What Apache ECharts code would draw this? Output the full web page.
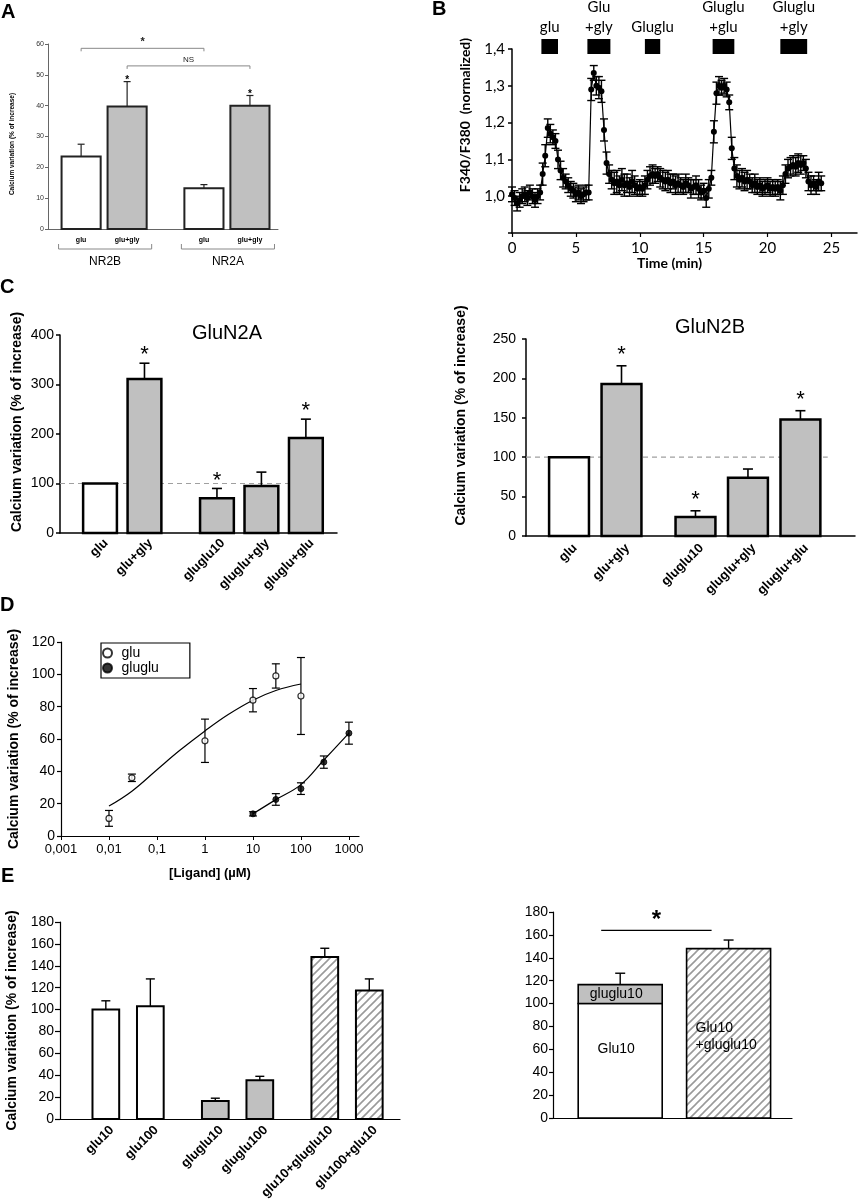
<!DOCTYPE html>
<html>
<head>
<meta charset="utf-8">
<script src="https://cdn.jsdelivr.net/npm/echarts@6/dist/echarts.min.js"></script>
<style>
  html, body { margin: 0; padding: 0; background: #fff; }
  #main { width: 858px; height: 1200px; }
</style>
</head>
<body>
<div id="main"></div>
<script>
// ---------- data ----------
// A : NR2B / NR2A
const aLabels = ['glu', 'glu+gly', 'glu', 'glu+gly'];
const aGroups = ['NR2B', 'NR2A'];
const aValues = [23.5, 39.7, 13.2, 40.0];
const aErrors = [4.0, 8.1, 1.2, 3.3];
const aFills = ['white', 'grey', 'white', 'grey'];
const aStars = [0, 1, 0, 1];
const aSig = [[0, 2, 58.6, '*'], [1, 3, 52.9, 'NS']];

// B : time course
const bTime = [
  0.0, 0.2, 0.4, 0.6, 0.8, 1.0, 1.2, 1.4, 1.6, 1.8,
  2.0, 2.2, 2.4, 2.6, 2.8, 3.0, 3.2, 3.4, 3.6, 3.8,
  4.0, 4.2, 4.4, 4.6, 4.8, 5.0, 5.2, 5.4, 5.6, 5.8,
  6.0, 6.2, 6.4, 6.6, 6.8, 7.0, 7.2, 7.4, 7.6, 7.8,
  8.0, 8.2, 8.4, 8.6, 8.8, 9.0, 9.2, 9.4, 9.6, 9.8,
  10.0, 10.2, 10.4, 10.6, 10.8, 11.0, 11.2, 11.4, 11.6, 11.8,
  12.0, 12.2, 12.4, 12.6, 12.8, 13.0, 13.2, 13.4, 13.6, 13.8,
  14.0, 14.2, 14.4, 14.6, 14.8, 15.0, 15.2, 15.4, 15.6, 15.8,
  16.0, 16.2, 16.4, 16.6, 16.8, 17.0, 17.2, 17.4, 17.6, 17.8,
  18.0, 18.2, 18.4, 18.6, 18.8, 19.0, 19.2, 19.4, 19.6, 19.8,
  20.0, 20.2, 20.4, 20.6, 20.8, 21.0, 21.2, 21.4, 21.6, 21.8,
  22.0, 22.2, 22.4, 22.6, 22.8, 23.0, 23.2, 23.4, 23.6, 23.8,
  24.0, 24.2
];
const bValues = [
  1.005, 0.995, 0.980, 0.990, 1.000, 1.005, 0.995, 1.010, 1.000, 0.990,
  1.000, 1.010, 1.060, 1.110, 1.185, 1.170, 1.160, 1.150, 1.100, 1.070,
  1.050, 1.040, 1.030, 1.020, 1.015, 1.005, 1.010, 1.000, 1.005, 1.010,
  1.010, 1.290, 1.335, 1.300, 1.295, 1.285, 1.180, 1.090, 1.060, 1.045,
  1.035, 1.040, 1.030, 1.045, 1.030, 1.035, 1.025, 1.040, 1.030, 1.020,
  1.025, 1.020, 1.030, 1.045, 1.055, 1.060, 1.055, 1.060, 1.050, 1.045,
  1.040, 1.045, 1.035, 1.040, 1.030, 1.035, 1.030, 1.025, 1.035, 1.030,
  1.020, 1.025, 1.030, 1.020, 1.010, 1.015, 0.995, 1.020, 1.050, 1.175,
  1.280, 1.300, 1.295, 1.300, 1.290, 1.255, 1.130, 1.075, 1.055, 1.045,
  1.050, 1.040, 1.045, 1.040, 1.030, 1.035, 1.025, 1.030, 1.020, 1.025,
  1.030, 1.020, 1.025, 1.020, 1.025, 1.015, 1.030, 1.060, 1.075, 1.080,
  1.085, 1.080, 1.090, 1.085, 1.090, 1.075, 1.040, 1.030, 1.035, 1.025,
  1.040, 1.035
];
const bErrors = [
  0.02, 0.02, 0.02, 0.02, 0.02, 0.02, 0.02, 0.02, 0.02, 0.02,
  0.02, 0.02, 0.03, 0.03, 0.025, 0.025, 0.02, 0.02, 0.025, 0.025,
  0.025, 0.02, 0.02, 0.02, 0.02, 0.02, 0.02, 0.02, 0.02, 0.02,
  0.02, 0.03, 0.02, 0.025, 0.03, 0.03, 0.03, 0.03, 0.025, 0.025,
  0.03, 0.03, 0.025, 0.03, 0.03, 0.025, 0.025, 0.03, 0.025, 0.02,
  0.02, 0.02, 0.025, 0.025, 0.025, 0.025, 0.02, 0.02, 0.025, 0.025,
  0.025, 0.025, 0.025, 0.02, 0.025, 0.025, 0.02, 0.02, 0.025, 0.02,
  0.025, 0.02, 0.025, 0.025, 0.02, 0.02, 0.025, 0.025, 0.02, 0.03,
  0.03, 0.025, 0.02, 0.02, 0.02, 0.02, 0.03, 0.03, 0.03, 0.025,
  0.025, 0.025, 0.025, 0.02, 0.02, 0.025, 0.02, 0.02, 0.02, 0.02,
  0.02, 0.02, 0.02, 0.02, 0.02, 0.025, 0.025, 0.025, 0.025, 0.025,
  0.025, 0.025, 0.025, 0.025, 0.02, 0.025, 0.025, 0.025, 0.02, 0.02,
  0.025, 0.02
];
const bBlocks = [[2.3, 3.6], [5.9, 7.7], [10.4, 11.6], [15.7, 17.4], [21.0, 23.1]];
const bBlockLabels = ['glu', 'Glu\n+gly', 'Gluglu', 'Gluglu\n+glu', 'Gluglu\n+gly'];

// C : GluN2A / GluN2B
const cLabels = ['glu', 'glu+gly', 'gluglu10', 'gluglu+gly', 'gluglu+glu'];
const cFills = ['white', 'grey', 'grey', 'grey', 'grey'];
const cStars = [0, 1, 1, 0, 1];
const c2aValues = [100, 311, 70, 95, 192];
const c2aErrors = [0, 32, 20, 28, 38];
const c2bValues = [100, 193, 24, 74, 148];
const c2bErrors = [0, 23, 8, 11, 11];
const cRef = 100;

// D : dose response
const dGluX = [0.01, 0.03, 1, 10, 30, 100];
const dGluY = [10.9, 36, 58.9, 84, 99, 86.6];
const dGluErr = [4.9, 2.3, 13.4, 7.2, 7.5, 23.8];
const dGluluX = [10, 30, 100, 300, 1000];
const dGluluY = [13.7, 22.6, 29.3, 45.7, 63.6];
const dGluluErr = [1.3, 3.6, 3.6, 3.8, 6.8];
const dGluFitX = [0.01, 0.03, 0.1, 0.3, 1, 3, 10, 30, 100];
const dGluFitY = [18.5, 27.7, 41, 53, 65, 75, 84, 90, 94];
const dGluluFitX = [10, 30, 100, 300, 1000];
const dGluluFitY = [13.7, 22.5, 31.8, 47, 63.6];

// E : combinations
const eLabels = ['glu10', 'glu100', 'gluglu10', 'gluglu100', 'glu10+gluglu10', 'glu100+glu10'];
const eValues = [100, 103, 16.5, 35.5, 148, 117.5];
const eErrors = [8, 25, 2.5, 3.5, 8, 10.5];
const eFills = ['white', 'white', 'grey', 'grey', 'hatch', 'hatch'];
const eSumLower = [100, 148];
const eSumUpper = [16.5, 0];
const eSumErrors = [10, 7.5];
const eSumLabels = [['Glu10', 'gluglu10'], ['Glu10\n+gluglu10', '']];
const eSig = [[0, 1, 164, '*']];

// ---------- helpers ----------
const FONT = '"Liberation Sans", Arial, sans-serif';
const BFONT = 'Lato, "Open Sans", sans-serif';
const GREY = '#c0c0c0';

function hatchPattern(size, color, width) {
  const c = document.createElement('canvas');
  c.width = size; c.height = size;
  const g = c.getContext('2d');
  g.strokeStyle = color;
  g.lineWidth = width;
  g.beginPath();
  g.moveTo(0, size); g.lineTo(size, 0);
  g.moveTo(-size / 2, size / 2); g.lineTo(size / 2, -size / 2);
  g.moveTo(size / 2, size * 1.5); g.lineTo(size * 1.5, size / 2);
  g.stroke();
  return { image: c, repeat: 'repeat' };
}
const HATCH = hatchPattern(8, '#9a9a9a', 1.6);

function fillOf(k) {
  if (k === 'grey') return GREY;
  if (k === 'hatch') return HATCH;
  return '#fff';
}

// bar slots: groups of adjacent bars separated by a gap (in bar units)
function slots(groups, gap) {
  const out = [];
  let x = 0;
  groups.forEach(n => {
    for (let i = 0; i < n; i++) { out.push(x); x += 1; }
    x += gap;
  });
  return out;
}

const aPos = slots([2, 2], 0.67);
const cLPos = slots([2, 3], 0.63);
const cRPos = slots([2, 3], 0.41);
const eLPos = slots([2, 2, 2], 0.46);
const eRPos = slots([2], 0);

function hiddenX(gi, min, max, color, width) {
  return {
    gridIndex: gi, type: 'value', min: min, max: max,
    axisLine: { show: true, lineStyle: { color: color, width: width } },
    axisTick: { show: false }, axisLabel: { show: false }, splitLine: { show: false }
  };
}

function valueY(gi, max, interval, o) {
  return {
    gridIndex: gi, type: 'value', min: 0, max: max, interval: interval,
    axisLine: { show: true, onZero: false, lineStyle: { color: o.color || '#000', width: o.width || 1 } },
    axisTick: { show: true, length: o.tick || 4, lineStyle: { color: o.color || '#000', width: o.width || 1 } },
    axisLabel: { fontFamily: o.font || FONT, fontSize: o.size, color: o.labelColor || '#000', margin: o.margin || 6 },
    splitLine: { show: false },
    name: o.name || '', nameLocation: 'middle', nameGap: o.nameGap || 30, nameRotate: 90,
    nameTextStyle: {
      fontFamily: o.font || FONT, fontWeight: 'bold', fontSize: o.nameSize || 13, color: '#000',
      padding: o.namePad || 0
    }
  };
}

function barSeries(gi, pos, values, errors, cfg) {
  return {
    type: 'custom', xAxisIndex: gi, yAxisIndex: gi, clip: false, z: 3,
    data: values.map((v, i) => [pos[i], v, errors[i]]),
    encode: { x: 0, y: 1 },
    renderItem: function (params, api) {
      const i = params.dataIndex;
      const x = api.value(0), v = api.value(1), e = api.value(2);
      const tl = api.coord([x - cfg.w / 2, v]);
      const br = api.coord([x + cfg.w / 2, 0]);
      const cx = (tl[0] + br[0]) / 2;
      const top = api.coord([x, v + e])[1];
      const stroke = cfg.stroke || '#000';
      const kids = [{
        type: 'rect',
        shape: { x: tl[0], y: tl[1], width: br[0] - tl[0], height: br[1] - tl[1] },
        style: { fill: fillOf(cfg.fills[i]), stroke: stroke, lineWidth: cfg.lw }
      }];
      if (e > 0) {
        kids.push({ type: 'line', shape: { x1: cx, y1: tl[1], x2: cx, y2: top },
          style: { stroke: stroke, lineWidth: cfg.elw } });
        kids.push({ type: 'line', shape: { x1: cx - cfg.cap, y1: top, x2: cx + cfg.cap, y2: top },
          style: { stroke: stroke, lineWidth: cfg.elw } });
      }
      if (cfg.stars && cfg.stars[i]) {
        kids.push({ type: 'text', x: cx, y: top - cfg.starGap,
          style: { text: '*', font: cfg.starFont, align: 'center', verticalAlign: 'middle', fill: '#000' } });
      }
      if (cfg.labels) {
        if (cfg.rotate) {
          kids.push({ type: 'text', x: cx + cfg.ldx, y: br[1] + cfg.ldy, rotation: Math.PI / 4,
            style: { text: cfg.labels[i], font: cfg.labelFont, align: 'right', verticalAlign: 'middle', fill: '#000' } });
        } else {
          kids.push({ type: 'text', x: cx, y: br[1] + cfg.ldy,
            style: { text: cfg.labels[i], font: cfg.labelFont, align: 'center', verticalAlign: 'middle', fill: '#000' } });
        }
      }
      return { type: 'group', children: kids };
    }
  };
}

function refLine(gi, xmin, xend, value) {
  return {
    type: 'custom', xAxisIndex: gi, yAxisIndex: gi, z: 1, silent: true,
    data: [[xmin, value, xend]],
    renderItem: function (params, api) {
      const p0 = api.coord([api.value(0), api.value(1)]);
      const p1 = api.coord([api.value(2), api.value(1)]);
      return { type: 'line', shape: { x1: p0[0], y1: p0[1], x2: p1[0], y2: p1[1] },
        style: { stroke: '#a0a0a0', lineWidth: 1.2, lineDash: [5, 4] } };
    }
  };
}

function errorSeries(gi, xs, ys, errs, cap, lw, z) {
  return {
    type: 'custom', xAxisIndex: gi, yAxisIndex: gi, z: z, silent: true,
    data: xs.map((x, i) => [x, ys[i], errs[i]]),
    encode: { x: 0, y: 1 },
    renderItem: function (params, api) {
      const x = api.value(0), y = api.value(1), e = api.value(2);
      const hi = api.coord([x, y + e]);
      const lo = api.coord([x, y - e]);
      const st = { stroke: '#000', lineWidth: lw };
      return { type: 'group', children: [
        { type: 'line', shape: { x1: hi[0], y1: hi[1], x2: lo[0], y2: lo[1] }, style: st },
        { type: 'line', shape: { x1: hi[0] - cap, y1: hi[1], x2: hi[0] + cap, y2: hi[1] }, style: st },
        { type: 'line', shape: { x1: lo[0] - cap, y1: lo[1], x2: lo[0] + cap, y2: lo[1] }, style: st }
      ] };
    }
  };
}

const pair = (xs, ys) => xs.map((x, i) => [x, ys[i]]);
const commaNum = v => String(v).replace('.', ',');

// ---------- option ----------
const chart = echarts.init(document.getElementById('main'), null, { renderer: 'canvas' });

const option = {
  animation: false,
  backgroundColor: '#fff',
  grid: [
    { left: 48, top: 44, width: 230, height: 185 },    // A
    { left: 512, top: 49, width: 345, height: 184 },   // B
    { left: 60, top: 335, width: 277, height: 198 },   // C GluN2A
    { left: 526, top: 339, width: 329, height: 197 },  // C GluN2B
    { left: 61, top: 642, width: 298, height: 194 },   // D
    { left: 60, top: 922, width: 340, height: 197 },   // E left
    { left: 553, top: 912, width: 239, height: 206 }   // E right
  ],
  legend: {
    data: ['glu', 'gluglu'], orient: 'vertical', left: 101, top: 643,
    itemWidth: 18, itemHeight: 9, itemGap: 1, selectedMode: false,
    padding: [3, 31, 3, 1], borderColor: '#000', borderWidth: 1.2,
    textStyle: { fontFamily: FONT, fontSize: 14, color: '#000' }
  },
  xAxis: [
    hiddenX(0, -0.72, 4.28, '#666', 1),
    {
      gridIndex: 1, type: 'value', min: 0, max: 27, interval: 5,
      axisLine: { lineStyle: { color: '#000', width: 1.5 } },
      axisTick: { show: true, length: 4, lineStyle: { color: '#000', width: 1.2 } },
      axisLabel: {
        fontFamily: BFONT, fontSize: 15, color: '#000', margin: 8, showMaxLabel: false,
        formatter: v => (v % 5 === 0 ? String(v) : '')
      },
      splitLine: { show: false },
      name: 'Time (min)', nameLocation: 'middle', nameGap: 22,
      nameTextStyle: { fontFamily: BFONT, fontWeight: 'bold', fontSize: 14, color: '#000', padding: [0, 30, 0, 0] }
    },
    hiddenX(2, -0.9, 5.33, '#000', 1.5),
    hiddenX(3, -0.82, 5.45, '#000', 1.5),
    {
      gridIndex: 4, type: 'log', logBase: 10, min: 0.001, max: 1622,
      axisLine: { lineStyle: { color: '#000', width: 1.2 } },
      axisTick: { show: true, length: 4, lineStyle: { color: '#000' } },
      axisLabel: {
        fontFamily: FONT, fontSize: 13, color: '#000', margin: 7, showMaxLabel: false,
        formatter: function (v) {
          const l = Math.log10(v), p = Math.round(l);
          if (Math.abs(l - p) > 1e-6) return '';
          return commaNum(Number(Math.pow(10, p).toPrecision(3)));
        }
      },
      splitLine: { show: false }, minorTick: { show: false },
      name: '[Ligand] (µM)', nameLocation: 'middle', nameGap: 31,
      nameTextStyle: { fontFamily: FONT, fontWeight: 'bold', fontSize: 13, color: '#000' }
    },
    hiddenX(5, -1.03, 6.61, '#000', 1.2),
    hiddenX(6, -0.62, 1.585, '#000', 1.2)
  ],
  yAxis: [
    valueY(0, 60, 10, { size: 7, color: '#666', labelColor: '#333', tick: 3, margin: 4,
      name: 'Calcium variation (% of increase)', nameSize: 6.5, nameGap: 32, namePad: [0, 15, 0, 0] }),
    Object.assign(valueY(1, 1.4, 0.1, { size: 15, font: BFONT, width: 1.5, margin: 7,
      name: 'F340/F380  (normalized)', nameSize: 14, nameGap: 40, namePad: [0, 0, 0, 52] }), {
      min: 0.9,
      axisLabel: {
        fontFamily: BFONT, fontSize: 15, color: '#000', margin: 7,
        formatter: v => (Math.abs(v - 0.9) < 1e-6 ? '' : v.toFixed(1).replace('.', ','))
      }
    }),
    valueY(2, 400, 100, { size: 14, width: 1.5, margin: 6,
      name: 'Calcium variation (% of increase)', nameSize: 14, nameGap: 36, namePad: [0, 0, 0, 24] }),
    valueY(3, 250, 50, { size: 14, width: 1.5, margin: 10,
      name: 'Calcium variation (% of increase)', nameSize: 14, nameGap: 58, namePad: [0, 0, 0, 44] }),
    valueY(4, 120, 20, { size: 14, width: 1.2, margin: 6,
      name: 'Calcium variation (% of increase)', nameSize: 14, nameGap: 40 }),
    valueY(5, 180, 20, { size: 14, width: 1.2, tick: 5, margin: 6,
      name: 'Calcium variation (% of increase)', nameSize: 14, nameGap: 41 }),
    valueY(6, 180, 20, { size: 14, width: 1.2, margin: 5 })
  ],
  graphic: [
    { type: 'text', left: 1, top: 2, style: { text: 'A', font: 'bold 20px ' + FONT, fill: '#000' } },
    { type: 'text', left: 432, top: -1, style: { text: 'B', font: 'bold 20px ' + FONT, fill: '#000' } },
    { type: 'text', left: 0, top: 277, style: { text: 'C', font: 'bold 20px ' + FONT, fill: '#000' } },
    { type: 'text', left: 0, top: 595, style: { text: 'D', font: 'bold 20px ' + FONT, fill: '#000' } },
    { type: 'text', left: 1, top: 866, style: { text: 'E', font: 'bold 20px ' + FONT, fill: '#000' } },
    { type: 'text', x: 227, y: 333, style: { text: 'GluN2A', font: '20px ' + FONT, fill: '#000', align: 'center', verticalAlign: 'middle' } },
    { type: 'text', x: 710, y: 327, style: { text: 'GluN2B', font: '20px ' + FONT, fill: '#000', align: 'center', verticalAlign: 'middle' } }
  ],
  series: [
    // ---- A ----
    barSeries(0, aPos, aValues, aErrors, {
      w: 0.85, fills: aFills, lw: 2, elw: 1.2, cap: 3.5, stroke: '#222',
      stars: aStars, starGap: 1, starFont: 'bold 10px ' + FONT,
      labels: aLabels, labelFont: 'bold 7px ' + FONT, ldy: 11
    }),
    {
      type: 'custom', xAxisIndex: 0, yAxisIndex: 0, z: 2, silent: true, clip: false,
      data: aGroups.map((g, k) => [aPos[2 * k], aPos[2 * k + 1]]),
      renderItem: function (params, api) {
        const a = api.coord([api.value(0) - 0.85 / 2, 0]);
        const b = api.coord([api.value(1) + 0.85 / 2, 0]);
        const x1 = a[0] - 3, x2 = b[0] + 5, y = a[1] + 20;
        return { type: 'group', children: [
          { type: 'polyline', shape: { points: [[x1, y - 5], [x1, y], [x2, y], [x2, y - 5]] },
            style: { stroke: '#888', lineWidth: 1, fill: null } },
          { type: 'text', x: (x1 + x2) / 2, y: y + 13,
            style: { text: aGroups[params.dataIndex], font: '12px ' + FONT, fill: '#000', align: 'center', verticalAlign: 'middle' } }
        ] };
      }
    },
    {
      type: 'custom', xAxisIndex: 0, yAxisIndex: 0, z: 2, silent: true, clip: false,
      data: aSig.map(s => [aPos[s[0]], aPos[s[1]], s[2]]),
      renderItem: function (params, api) {
        const a = api.coord([api.value(0), api.value(2)]);
        const b = api.coord([api.value(1), api.value(2)]);
        const txt = aSig[params.dataIndex][3];
        return { type: 'group', children: [
          { type: 'polyline', shape: { points: [[a[0], a[1] + 3], [a[0], a[1]], [b[0], b[1]], [b[0], b[1] + 3]] },
            style: { stroke: '#888', lineWidth: 1, fill: null } },
          { type: 'text', x: (a[0] + b[0]) / 2, y: a[1] - 6,
            style: { text: txt, font: (txt === '*' ? 'bold 11px ' : '8px ') + FONT, fill: '#222', align: 'center', verticalAlign: 'middle' } }
        ] };
      }
    },

    // ---- B ----
    errorSeries(1, bTime, bValues, bErrors, 4, 1.4, 2),
    {
      type: 'line', xAxisIndex: 1, yAxisIndex: 1, z: 3,
      data: pair(bTime, bValues),
      symbol: 'circle', symbolSize: 6, showSymbol: true,
      itemStyle: { color: '#000' }, lineStyle: { color: '#000', width: 1.2 }
    },
    {
      type: 'custom', xAxisIndex: 1, yAxisIndex: 1, z: 3, silent: true, clip: false,
      data: bBlocks,
      renderItem: function (params, api) {
        const p0 = api.coord([api.value(0), 1.4]);
        const p1 = api.coord([api.value(1), 1.4]);
        const top = p0[1] - 10;
        return { type: 'group', children: [
          { type: 'rect', shape: { x: p0[0], y: top, width: p1[0] - p0[0], height: 15 }, style: { fill: '#000' } },
          { type: 'text', x: (p0[0] + p1[0]) / 2, y: top - 2,
            style: { text: bBlockLabels[params.dataIndex], font: '15px ' + BFONT, lineHeight: 20,
              fill: '#000', align: 'center', verticalAlign: 'bottom' } }
        ] };
      }
    },

    // ---- C ----
    refLine(2, -0.9, 4.25, cRef),
    barSeries(2, cLPos, c2aValues, c2aErrors, {
      w: 0.76, fills: cFills, lw: 2.5, elw: 1.6, cap: 5,
      stars: cStars, starGap: 8, starFont: '22px ' + FONT,
      labels: cLabels, labelFont: 'bold 13px ' + FONT, rotate: true, ldx: 6, ldy: 8
    }),
    refLine(3, -0.82, 4.93, cRef),
    barSeries(3, cRPos, c2bValues, c2bErrors, {
      w: 0.76, fills: cFills, lw: 2.5, elw: 1.6, cap: 5,
      stars: cStars, starGap: 11, starFont: '22px ' + FONT,
      labels: cLabels, labelFont: 'bold 13px ' + FONT, rotate: true, ldx: 6, ldy: 10
    }),

    // ---- D ----
    {
      type: 'line', xAxisIndex: 4, yAxisIndex: 4, z: 2, silent: true,
      data: pair(dGluFitX, dGluFitY), smooth: 0.4, symbol: 'none',
      lineStyle: { color: '#000', width: 1.2 }
    },
    {
      type: 'line', xAxisIndex: 4, yAxisIndex: 4, z: 2, silent: true,
      data: pair(dGluluFitX, dGluluFitY), smooth: 0.4, symbol: 'none',
      lineStyle: { color: '#000', width: 1.2 }
    },
    errorSeries(4, dGluX, dGluY, dGluErr, 4, 1.2, 3),
    errorSeries(4, dGluluX, dGluluY, dGluluErr, 4, 1.2, 3),
    {
      name: 'glu', type: 'scatter', xAxisIndex: 4, yAxisIndex: 4, z: 5,
      data: pair(dGluX, dGluY), symbol: 'circle', symbolSize: 6,
      itemStyle: { color: '#fff', borderColor: '#000', borderWidth: 1.2 }
    },
    {
      name: 'gluglu', type: 'scatter', xAxisIndex: 4, yAxisIndex: 4, z: 5,
      data: pair(dGluluX, dGluluY), symbol: 'circle', symbolSize: 6,
      itemStyle: { color: '#000', borderColor: '#000', borderWidth: 1 }
    },

    // ---- E left ----
    barSeries(5, eLPos, eValues, eErrors, {
      w: 0.6, fills: eFills, lw: 2, elw: 1.4, cap: 4.5,
      labels: eLabels, labelFont: 'bold 13px ' + FONT, rotate: true, ldx: 6, ldy: 9
    }),

    // ---- E right ----
    {
      type: 'custom', xAxisIndex: 6, yAxisIndex: 6, z: 3, clip: false,
      data: eSumLower.map((lo, i) => [eRPos[i], lo, eSumUpper[i], eSumErrors[i]]),
      encode: { x: 0, y: 1 },
      renderItem: function (params, api) {
        const i = params.dataIndex;
        const x = api.value(0), lo = api.value(1), up = api.value(2), e = api.value(3);
        const w = 0.775;
        const l = api.coord([x - w / 2, 0])[0], r = api.coord([x + w / 2, 0])[0];
        const y0 = api.coord([x, 0])[1], yLo = api.coord([x, lo])[1];
        const yUp = api.coord([x, lo + up])[1], yErr = api.coord([x, lo + up + e])[1];
        const cx = (l + r) / 2;
        const kids = [{
          type: 'rect', shape: { x: l, y: yLo, width: r - l, height: y0 - yLo },
          style: { fill: i === 0 ? '#fff' : HATCH, stroke: '#000', lineWidth: 1.6 }
        }];
        if (up > 0) {
          kids.push({ type: 'rect', shape: { x: l, y: yUp, width: r - l, height: yLo - yUp },
            style: { fill: GREY, stroke: '#000', lineWidth: 1.6 } });
          kids.push({ type: 'text', x: cx - 4, y: (yUp + yLo) / 2,
            style: { text: eSumLabels[i][1], font: '14px ' + FONT, fill: '#000', align: 'center', verticalAlign: 'middle' } });
          kids.push({ type: 'text', x: cx - 4, y: api.coord([x, lo * 0.6])[1],
            style: { text: eSumLabels[i][0], font: '14px ' + FONT, fill: '#000', align: 'center', verticalAlign: 'middle' } });
        } else {
          kids.push({ type: 'text', x: l + 9, y: api.coord([x, lo * 0.48])[1],
            style: { text: eSumLabels[i][0], font: '14px ' + FONT, lineHeight: 17, fill: '#000', align: 'left', verticalAlign: 'middle' } });
        }
        kids.push({ type: 'line', shape: { x1: cx, y1: yUp, x2: cx, y2: yErr }, style: { stroke: '#000', lineWidth: 1.4 } });
        kids.push({ type: 'line', shape: { x1: cx - 5, y1: yErr, x2: cx + 5, y2: yErr }, style: { stroke: '#000', lineWidth: 1.4 } });
        return { type: 'group', children: kids };
      }
    },
    {
      type: 'custom', xAxisIndex: 6, yAxisIndex: 6, z: 3, silent: true, clip: false,
      data: eSig.map(s => [eRPos[s[0]], eRPos[s[1]], s[2]]),
      renderItem: function (params, api) {
        const a = api.coord([api.value(0), api.value(2)]);
        const b = api.coord([api.value(1), api.value(2)]);
        const x1 = a[0] - 19, x2 = b[0] - 17;
        return { type: 'group', children: [
          { type: 'line', shape: { x1: x1, y1: a[1], x2: x2, y2: a[1] }, style: { stroke: '#000', lineWidth: 1.2 } },
          { type: 'text', x: (x1 + x2) / 2, y: a[1] - 10,
            style: { text: eSig[params.dataIndex][3], font: 'bold 24px ' + FONT, fill: '#000', align: 'center', verticalAlign: 'middle' } }
        ] };
      }
    }
  ]
};

chart.setOption(option);
</script>
</body>
</html>
